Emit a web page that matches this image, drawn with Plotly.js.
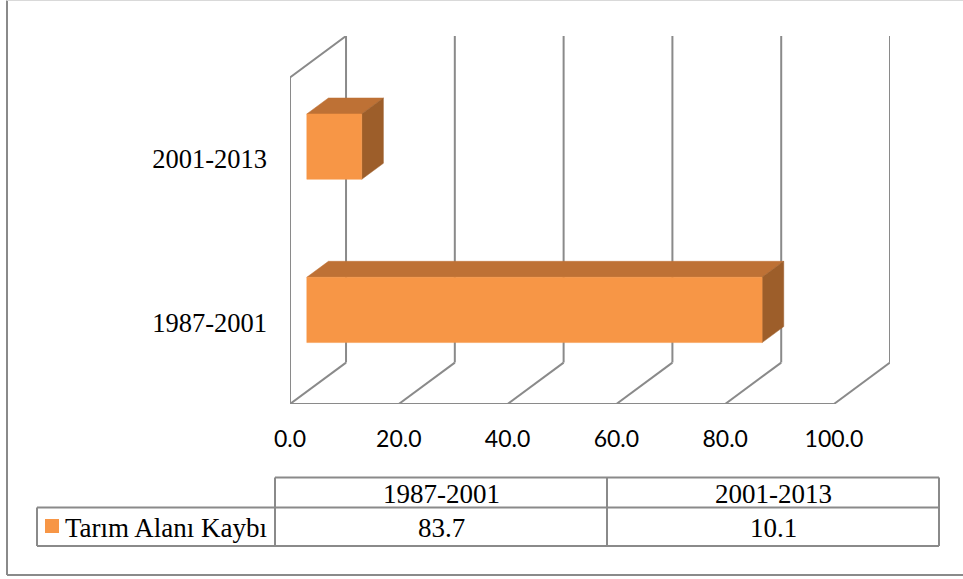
<!DOCTYPE html>
<html>
<head>
<meta charset="utf-8">
<script src="https://cdn.plot.ly/plotly-3.0.1.min.js"></script>
<style>
html,body{margin:0;padding:0;background:#fff;}
#chart{width:963px;height:579px;}
</style>
</head>
<body>
<div id="chart"></div>
<script>
// ---- data ----
const categories = ['1987-2001', '2001-2013'];
const seriesName = 'Tarım Alanı Kaybı';
const values = [83.7, 10.1];
const xTickVals = [0, 20, 40, 60, 80, 100];
const xTickText = xTickVals.map(v => v.toFixed(1));

// ---- 3D projection settings (styling) ----
const DX = 10.3, DY = 0.2534;      // depth offset in axis units
const D0 = 0.30, D1 = 0.686;       // bar depth (front / back)
const HALF = 0.2;                  // half bar thickness
const XMAX = 100;
const YTOP = categories.length;
const colFront = '#F79646', colTop = '#BE7135', colSide = '#9D5E2A';
const gridCol = '#8A8A8A';
const serif = 'Liberation Serif, Times New Roman, serif';

// ---- frame / grid lines ----
const gx = [], gy = [];
function seg(x0, y0, x1, y1) { gx.push(x0, x1, null); gy.push(y0, y1, null); }
xTickVals.forEach(t => {
  seg(t + DX, DY, t + DX, YTOP + DY);   // back wall gridline
  seg(t, 0, t + DX, DY);                // floor diagonal
});
seg(0, 0, XMAX, 0);                      // front floor edge
gx.push(0, 0, DX, null); gy.push(0, YTOP, YTOP + DY, null); // left wall

const traces = [{
  type: 'scatter', mode: 'lines', x: gx, y: gy,
  line: {color: gridCol, width: 2}, hoverinfo: 'skip', showlegend: false
}];

// ---- bars ----
function poly(xs, ys, color) {
  traces.push({
    type: 'scatter', mode: 'lines', x: xs.concat([xs[0]]), y: ys.concat([ys[0]]),
    fill: 'toself', fillcolor: color, line: {color: color, width: 0.5},
    hoverinfo: 'skip', showlegend: false
  });
}
values.forEach((v, i) => {
  const c = i + 0.5;
  const x0 = D0 * DX, x1 = D1 * DX;
  const yb0 = c - HALF + D0 * DY, yt0 = c + HALF + D0 * DY;
  const yb1 = c - HALF + D1 * DY, yt1 = c + HALF + D1 * DY;
  poly([x0, x0 + v, x1 + v, x1], [yt0, yt0, yt1, yt1], colTop);        // top
  poly([x0 + v, x1 + v, x1 + v, x0 + v], [yb0, yb1, yt1, yt0], colSide); // side
  poly([x0, x0 + v, x0 + v, x0], [yb0, yb0, yt0, yt0], colFront);      // front
});

// ---- layout helpers (pixel -> paper) ----
const ML = 290, MR = 73, MT = 36, MB = 175, W = 963, H = 579;
const PW = W - ML - MR, PH = H - MT - MB;
const PX = p => (p - ML) / PW;
const PY = p => (H - MB - p) / PH;

const shapes = [];
function line(x0, y0, x1, y1, w, col) {
  shapes.push({type: 'line', xref: 'paper', yref: 'paper',
    x0: PX(x0), y0: PY(y0), x1: PX(x1), y1: PY(y1),
    line: {color: col || gridCol, width: w || 2}});
}
// outer chart border
line(7, 0.5, 7, 575); line(7, 575, 980, 575); line(7, 0.5, 980, 0.5, 1, '#D9D9D9');

// data table grid
const colX = [37, 275, 607, 939];
const rowY = [477.5, 507.5, 546];
line(colX[1], rowY[0], colX[3], rowY[0]);
line(colX[0], rowY[1], colX[3], rowY[1]);
line(colX[0], rowY[2], colX[3], rowY[2]);
line(colX[0], rowY[1], colX[0], rowY[2]);
for (let k = 1; k < colX.length; k++) line(colX[k], rowY[0], colX[k], rowY[2]);
// legend key
shapes.push({type: 'rect', xref: 'paper', yref: 'paper',
  x0: PX(45), x1: PX(59), y0: PY(533), y1: PY(519),
  fillcolor: colFront, line: {width: 0}});

const annotations = [];
function txt(text, x, y, anchor) {
  annotations.push({text: text, xref: 'paper', yref: 'paper', x: PX(x), y: PY(y),
    xanchor: anchor || 'center', yanchor: 'middle', showarrow: false,
    font: {family: serif, size: 27, color: '#000'}});
}
categories.forEach((c, i) => {
  const cx = (colX[i + 1] + colX[i + 2]) / 2;
  txt(c, cx, (rowY[0] + rowY[1]) / 2 + 1);
  txt(values[i].toFixed(1), cx, (rowY[1] + rowY[2]) / 2 + 1);
});
txt(seriesName, 63, (rowY[1] + rowY[2]) / 2 + 1, 'left');

const layout = {
  width: W, height: H,
  margin: {l: ML, r: MR, t: MT, b: MB, pad: 0},
  paper_bgcolor: '#fff', plot_bgcolor: '#fff',
  showlegend: false,
  xaxis: {range: [0, XMAX + DX], tickvals: xTickVals, ticktext: xTickText,
    showgrid: false, zeroline: false, showline: false, ticks: '',
    ticklabelstandoff: 19,
    tickfont: {family: 'Lato, Carlito, sans-serif', size: 23, color: '#000'},
    fixedrange: true},
  yaxis: {range: [0, YTOP + DY], tickvals: categories.map((c, i) => i + 0.5),
    ticktext: categories, showgrid: false, zeroline: false, showline: false,
    ticks: '', ticklabelstandoff: 22,
    tickfont: {family: serif, size: 26.5, color: '#000'}, fixedrange: true},
  shapes: shapes, annotations: annotations
};

Plotly.newPlot('chart', traces, layout, {displayModeBar: false, staticPlot: true});
</script>
</body>
</html>
